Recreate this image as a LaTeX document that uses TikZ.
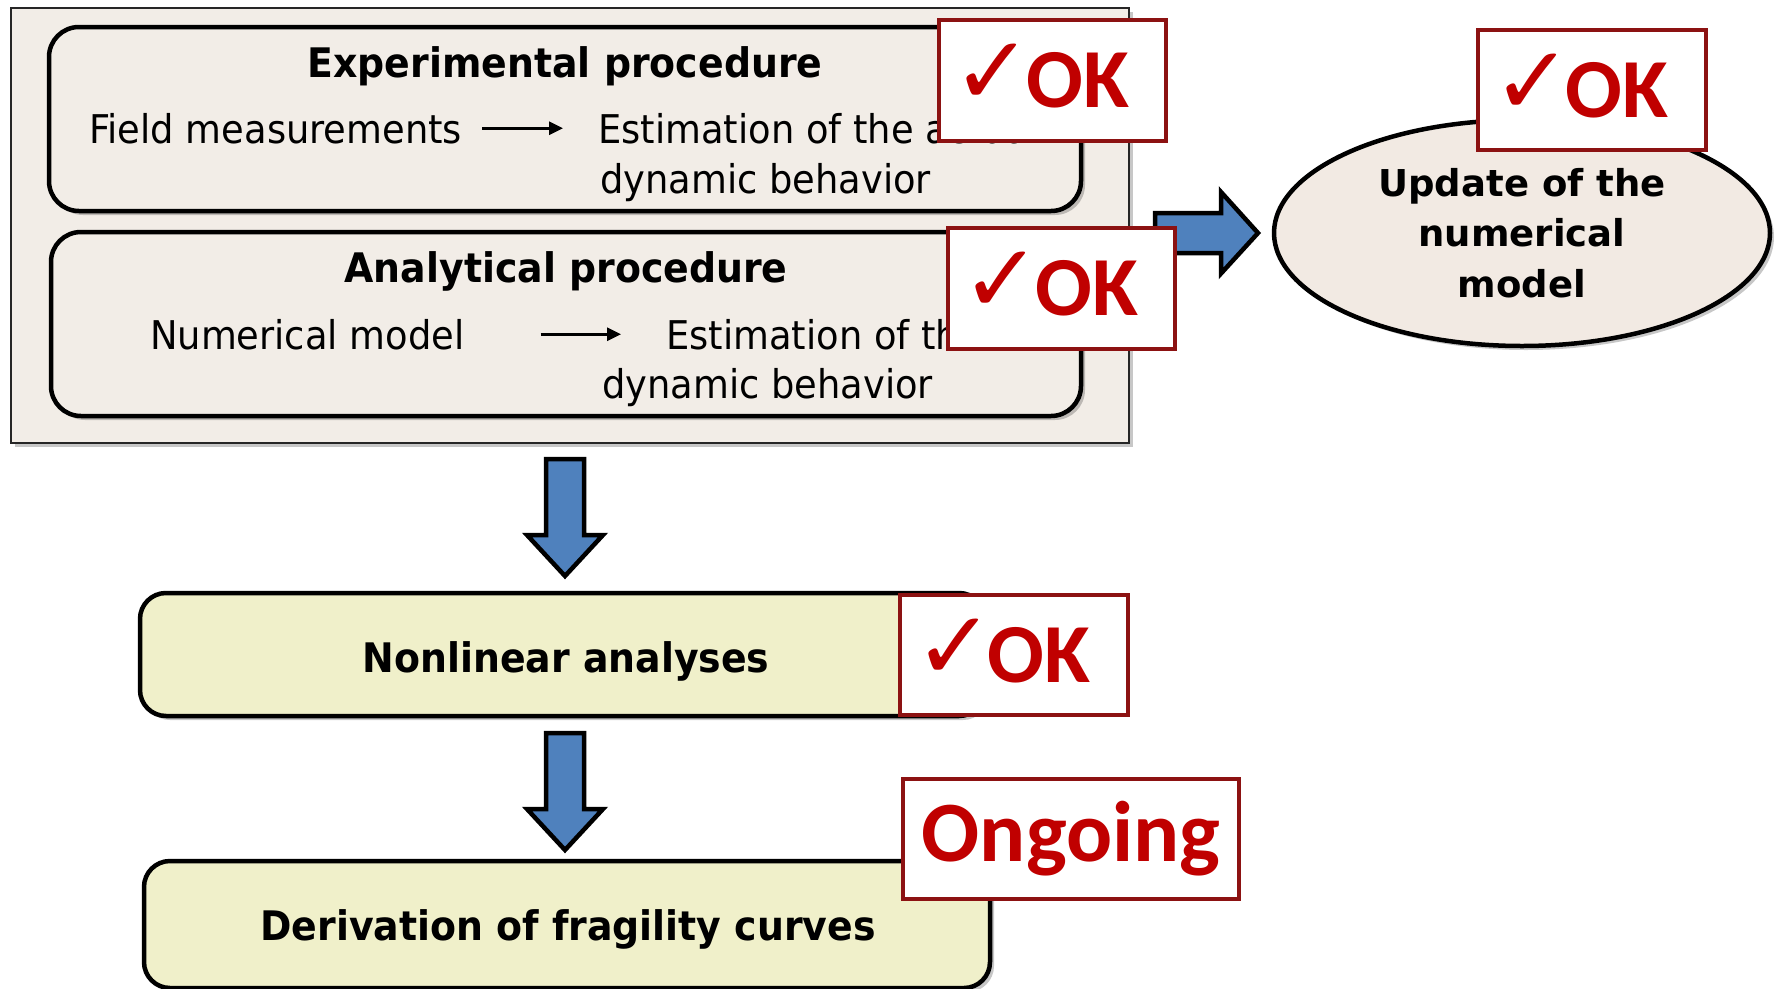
\documentclass[tikz,border=0pt]{standalone}
\usepackage{fontspec}
\setmainfont{DejaVu Sans}[FakeStretch=0.93]
\newfontfamily\widefont{DejaVu Sans}
\newfontfamily\okfont{Carlito}
\newfontfamily\chkfont{DejaVu Sans}
\usetikzlibrary{shapes.geometric,shadows,arrows.meta}
\definecolor{beige}{RGB}{242,237,231}
\definecolor{ellbeige}{RGB}{242,234,227}
\definecolor{paleyellow}{RGB}{240,240,202}
\definecolor{okborder}{RGB}{140,18,18}
\definecolor{okred}{RGB}{192,0,0}
\definecolor{arrowblue}{RGB}{79,129,189}
\tikzset{
  softshadow/.style={drop shadow={shadow xshift=4pt,shadow yshift=-4pt,opacity=0.22,fill=black}},
  outerbox/.style={rectangle,draw=black!85,line width=2pt,fill=beige,inner sep=0pt,softshadow},
  procbox/.style={rectangle,draw=black,line width=4.5pt,fill=beige,rounded corners=30pt,inner sep=0pt,softshadow},
  taskbox/.style={rectangle,draw=black,line width=4.5pt,fill=paleyellow,rounded corners=26pt,inner sep=0pt,softshadow},
  okbox/.style={rectangle,draw=okborder,line width=4pt,fill=white,inner sep=0pt,text=okred,
     font=\okfont\bfseries\fontsize{84}{84}\selectfont},
  bluearrow/.style={draw=black,line width=4.5pt,fill=arrowblue,line join=miter},
  smallarrow/.style={line width=3pt,-{Triangle[length=14pt,width=13pt]}},
  txt/.style={inner sep=0pt,font=\fontsize{39.6}{48}\selectfont},
  btxt/.style={inner sep=0pt,font=\bfseries\fontsize{40.7}{48}\selectfont},
}
\newcommand{\chk}{\smash{\chkfont\fontsize{96}{96}\selectfont\raisebox{3pt}{✓}}\hspace*{-7pt}}
\begin{document}
\begin{tikzpicture}[x=1pt,y=-1pt]
\useasboundingbox (0,0) rectangle (1775,988);
\fill[white] (0,0) rectangle (1775,988);

% upper grouping box
\node[outerbox,minimum width=1118,minimum height=435] (outer) at (570,225.5) {};
\node[procbox,minimum width=1032,minimum height=184] (exp) at (565,119) {};
\node[procbox,minimum width=1030,minimum height=184] (ana) at (566,324) {};

% experimental procedure texts
\node[btxt,anchor=base] (exptitle) at (565,77) {Experimental procedure};
\node[txt,anchor=base west] (fm) at (89,143) {Field measurements};
\node[txt,anchor=base west] (est1) at (598,143) {Estimation of the actual};
\node[txt,anchor=base west] (dyn1) at (600,193) {dynamic behavior};
\draw[smallarrow,shorten <=20pt,shorten >=35pt] (fm.east) -- (fm.east -| est1.west);

% analytical procedure texts
\node[btxt,anchor=base] (anatitle) at (566,282) {Analytical procedure};
\node[txt,anchor=base west] (nm) at (150,349) {Numerical model};
\node[txt,anchor=base west] (est2) at (666,349) {Estimation of the actual};
\node[txt,anchor=base west] (dyn2) at (602,398) {dynamic behavior};
\draw[smallarrow,shorten <=76pt,shorten >=45pt] (nm.east) -- (nm.east -| est2.west);

% right block arrow
\coordinate (r1s) at (1155,233);
\coordinate (r1e) at (1258,233);
\draw[bluearrow] (r1s) ++(0,-20) -- ++(66,0) -- ++(0,-21) -- (r1e) -- ++(-37,40.5) -- ++(0,-20.5) -- ++(-66,0) -- cycle;

% update ellipse
\node[ellipse,draw=black,line width=4.5pt,fill=ellbeige,inner sep=0pt,minimum width=496,minimum height=226,softshadow,
      align=center,font=\widefont\bfseries\fontsize{37}{50.5}\selectfont] (upd) at (1522,233)
      {Update of the\\numerical\\model};

% lower tasks
\node[taskbox,minimum width=845,minimum height=123] (nl) at (562.5,654.5) {};
\node[btxt,anchor=base] (nltxt) at (566,672) {Nonlinear analyses};
\node[taskbox,minimum width=846,minimum height=127] (frag) at (567,924.5) {};
\node[btxt,anchor=base] (fragtxt) at (568,940) {Derivation of fragility curves};

% down block arrows
\coordinate (d1t) at (565,459);
\coordinate (d1b) at (565,576);
\draw[bluearrow] (d1t) ++(-19,0) -- ++(0,76) -- ++(-19,0) -- (d1b) -- ++(38,-41) -- ++(-19,0) -- ++(0,-76) -- cycle;
\coordinate (d2t) at (565,733);
\coordinate (d2b) at (565,850);
\draw[bluearrow] (d2t) ++(-19,0) -- ++(0,76) -- ++(-19,0) -- (d2b) -- ++(38,-41) -- ++(-19,0) -- ++(0,-76) -- cycle;

% status boxes
\node[okbox,minimum width=227,minimum height=121] (ok1) at (1052.5,80.5) {\chk OK\hspace*{23pt}};
\node[okbox,minimum width=227,minimum height=121] (ok2) at (1061.5,288) {\chk OK\hspace*{23pt}};
\node[okbox,minimum width=228,minimum height=120] (ok3) at (1592,90) {\chk OK\hspace*{23pt}};
\node[okbox,minimum width=228,minimum height=120] (ok4) at (1014,655) {\chk OK\hspace*{23pt}};
\node[okbox,minimum width=336,minimum height=120,font=\okfont\bfseries\fontsize{86}{86}\selectfont] (ong) at (1071,839) {Ongoing};
\end{tikzpicture}
\end{document}
